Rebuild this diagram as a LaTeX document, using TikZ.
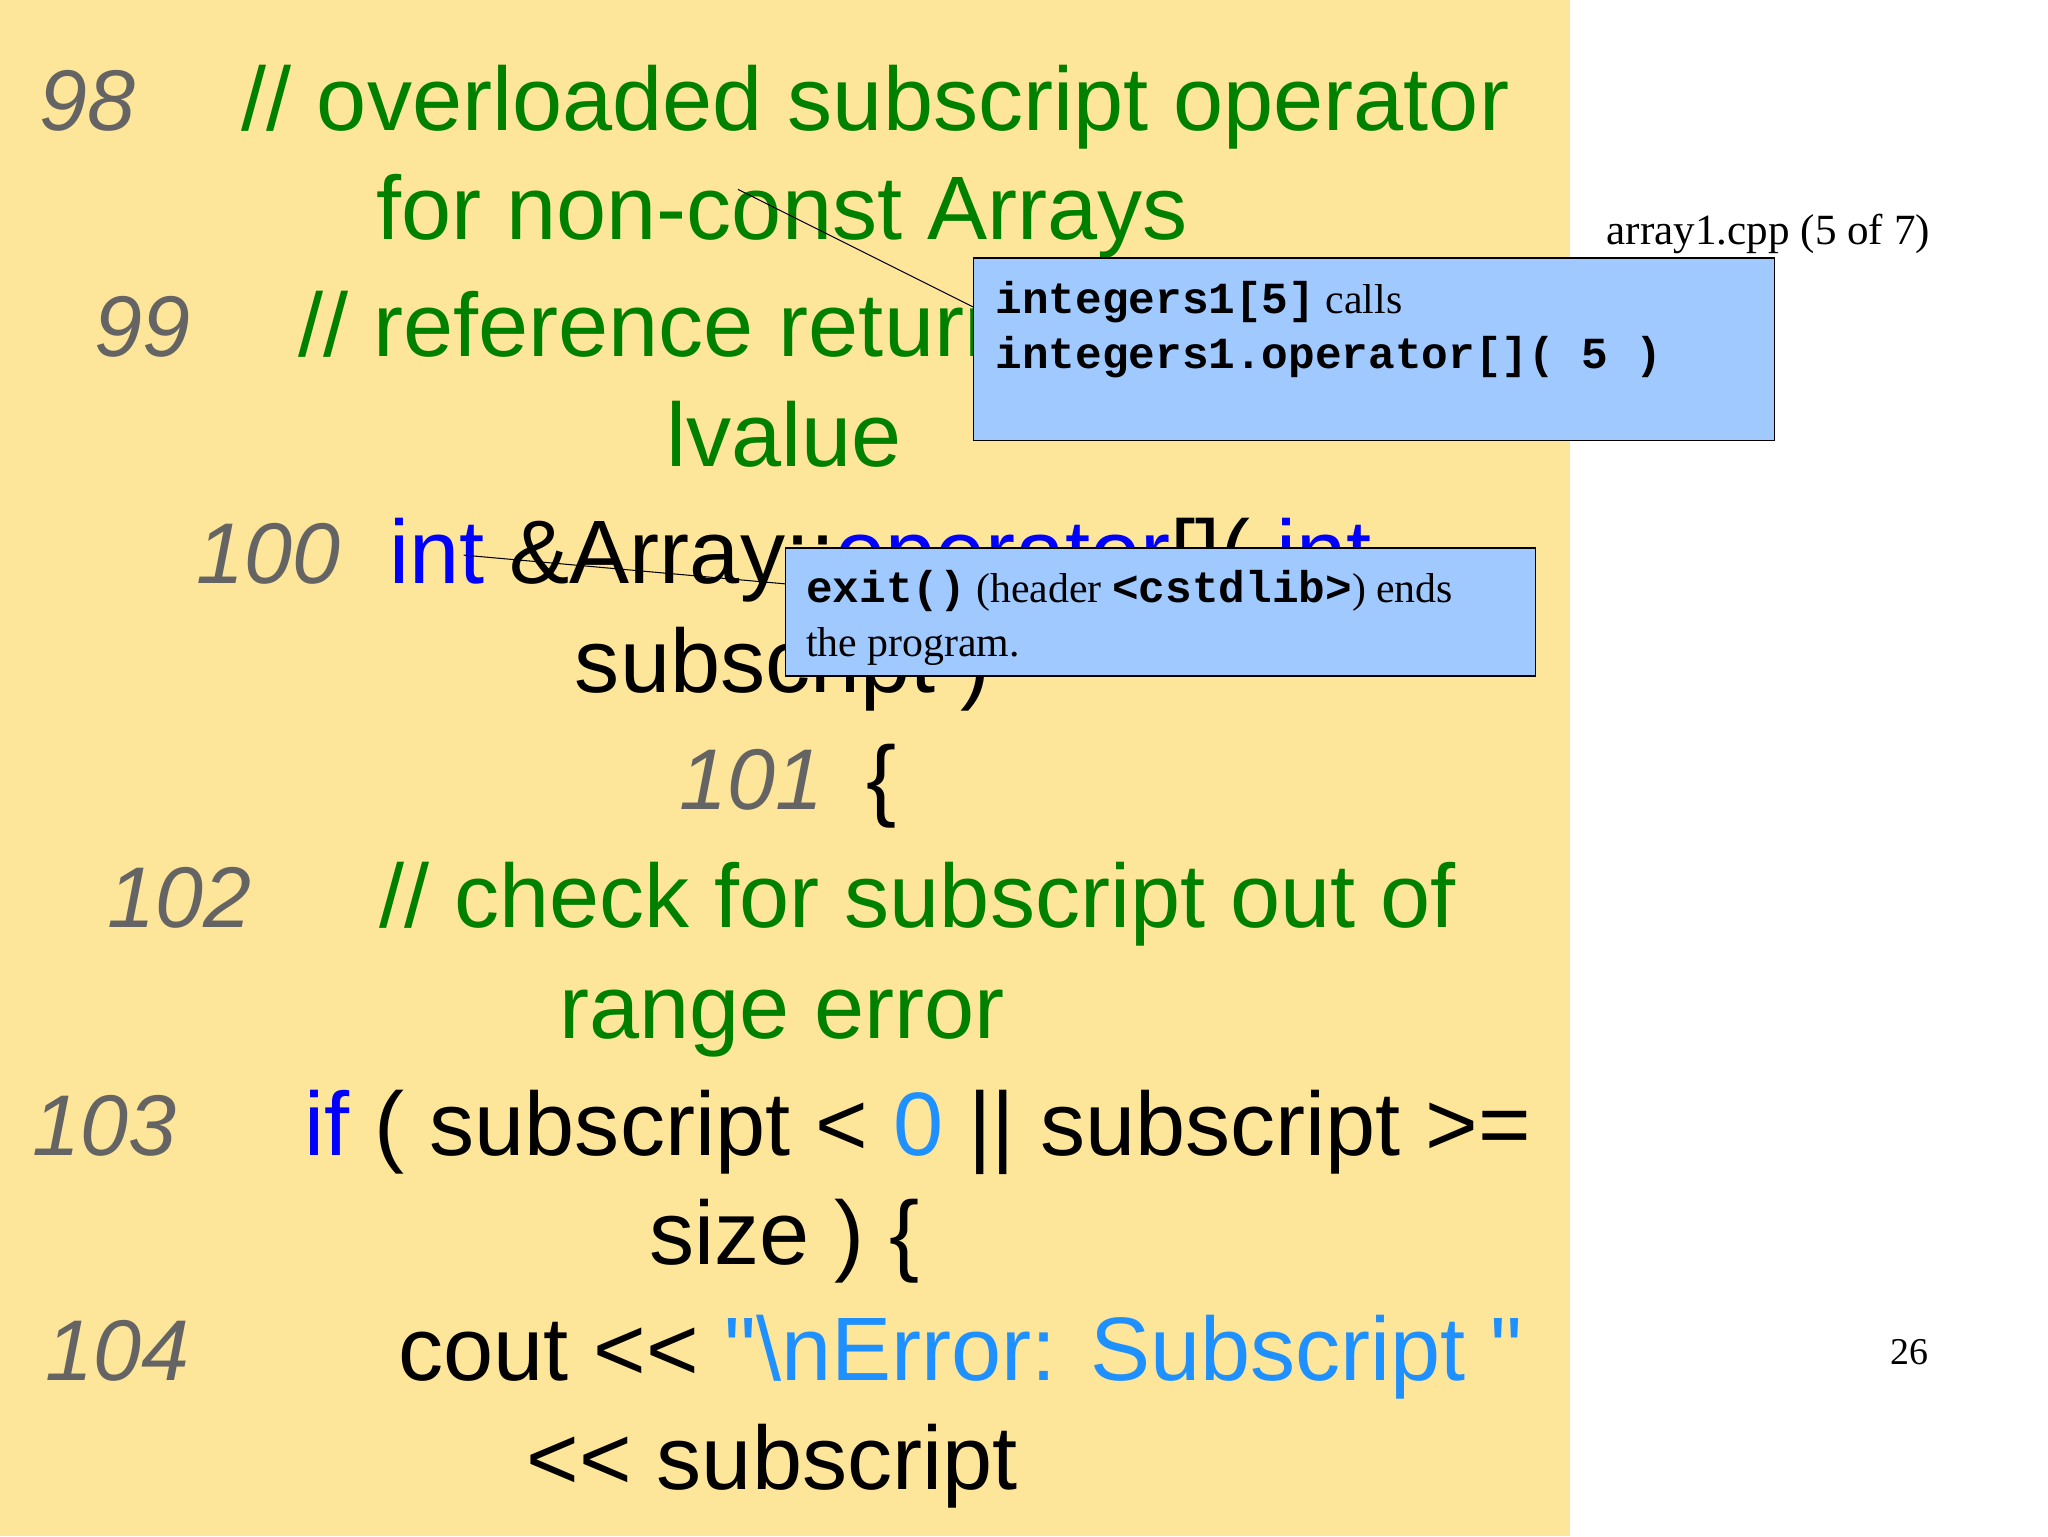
\documentclass[tikz,border=0pt]{standalone}
\usepackage{fontspec}
\setmainfont{Liberation Sans}
\newfontfamily\tms{Liberation Serif}
\newfontfamily\cour{Liberation Mono}
\newcommand\cw[1]{{\fontsize{34}{34}\selectfont\cour\bfseries #1}}
\definecolor{bgy}{RGB}{253,229,154}
\definecolor{cg}{RGB}{0,128,0}
\definecolor{kw}{RGB}{0,0,255}
\definecolor{lb}{RGB}{30,144,255}
\definecolor{ln}{RGB}{100,100,100}
\definecolor{box}{RGB}{160,202,255}
\begin{document}
\begin{tikzpicture}[x=1pt,y=-1pt,
  code/.style={anchor=base west,inner sep=0pt,font=\fontsize{69}{69}\selectfont},
  num/.style={anchor=base west,inner sep=0pt,font=\fontsize{66}{66}\selectfont\itshape,text=ln},
  note/.style={draw=black,fill=box,anchor=north west,inner sep=0pt,line width=1pt},
  ntext/.style={anchor=base west,inner sep=0pt,font=\fontsize{32}{32}\selectfont\tms}]
\useasboundingbox (0,0) rectangle (1568,1176);
\fill[white] (0,0) rectangle (1568,1176);
\fill[bgy] (0,0) rectangle (1202,1176);
\node[num] (n98) at (30,100) {98};
\node[code,text=cg] (t98) at (185,100) {// overloaded subscript operator};
\node[code,text=cg] (t98b) at (288,183) {for non-const Arrays};
\node[num] (n99) at (72,273) {99};
\node[code,text=cg] (t99) at (228,273) {// reference return creates a};
\node[code,text=cg] (t99b) at (510,357) {lvalue};
\node[num] (n100) at (150,447) {100};
\node[code] (t100) at (298,447) {\textcolor{kw}{int} \&Array::\textcolor{kw}{operator}[]( \textcolor{kw}{int}};
\node[code] (t100b) at (440,530) {subscript )};
\node[num] (n101) at (520,620) {101};
\node[code] (t101) at (663,620) {\{};
\node[num] (n102) at (82,710) {102};
\node[code,text=cg] (t102) at (290,710) {// check for subscript out of};
\node[code,text=cg] (t102b) at (428,795) {range error};
\node[num] (n103) at (25,885) {103};
\node[code] (t103) at (233,885) {\textcolor{kw}{if} ( subscript <{} \textcolor{lb}{0} || subscript >=};
\node[code] (t103b) at (497,968) {size ) \{};
\node[num] (n104) at (35,1057) {104};
\node[code] (t104) at (305,1057) {cout <{}< \textcolor{lb}{\textquotedbl\textbackslash nError: Subscript \textquotedbl}};
\node[code] (t104b) at (403,1140) {<{}< subscript};
\node[anchor=base west,inner sep=0pt,font=\fontsize{33}{33}\selectfont\tms] (title) at (1230,187) {array1.cpp (5 of 7)};
\node[anchor=base west,inner sep=0pt,font=\fontsize{29}{29}\selectfont\tms] (pg) at (1447,1045) {26};
% callout 1
\coordinate (a1) at (565,145);
\node[note,minimum width=613pt,minimum height=140pt] (b1) at (745,197) {};
\draw[line width=0.8pt] (a1) -- (b1.west |- 0,235);
\node[ntext] (b1t1) at (762,240) {\cw{integers1[5]} calls};
\node[ntext] (b1t2) at (762,282) {\cw{integers1.operator[]( 5 )}};
% callout 2
\coordinate (a2) at (355,425);
\node[note,minimum width=574pt,minimum height=98pt] (b2) at (601,419) {};
\draw[line width=0.8pt] (a2) -- (b2.west |- 0,447);
\node[ntext] (b2t1) at (617,461) {\cw{exit()} (header \cw{<cstdlib>}) ends};
\node[ntext] (b2t2) at (617,503) {the program.};
\end{tikzpicture}
\end{document}
